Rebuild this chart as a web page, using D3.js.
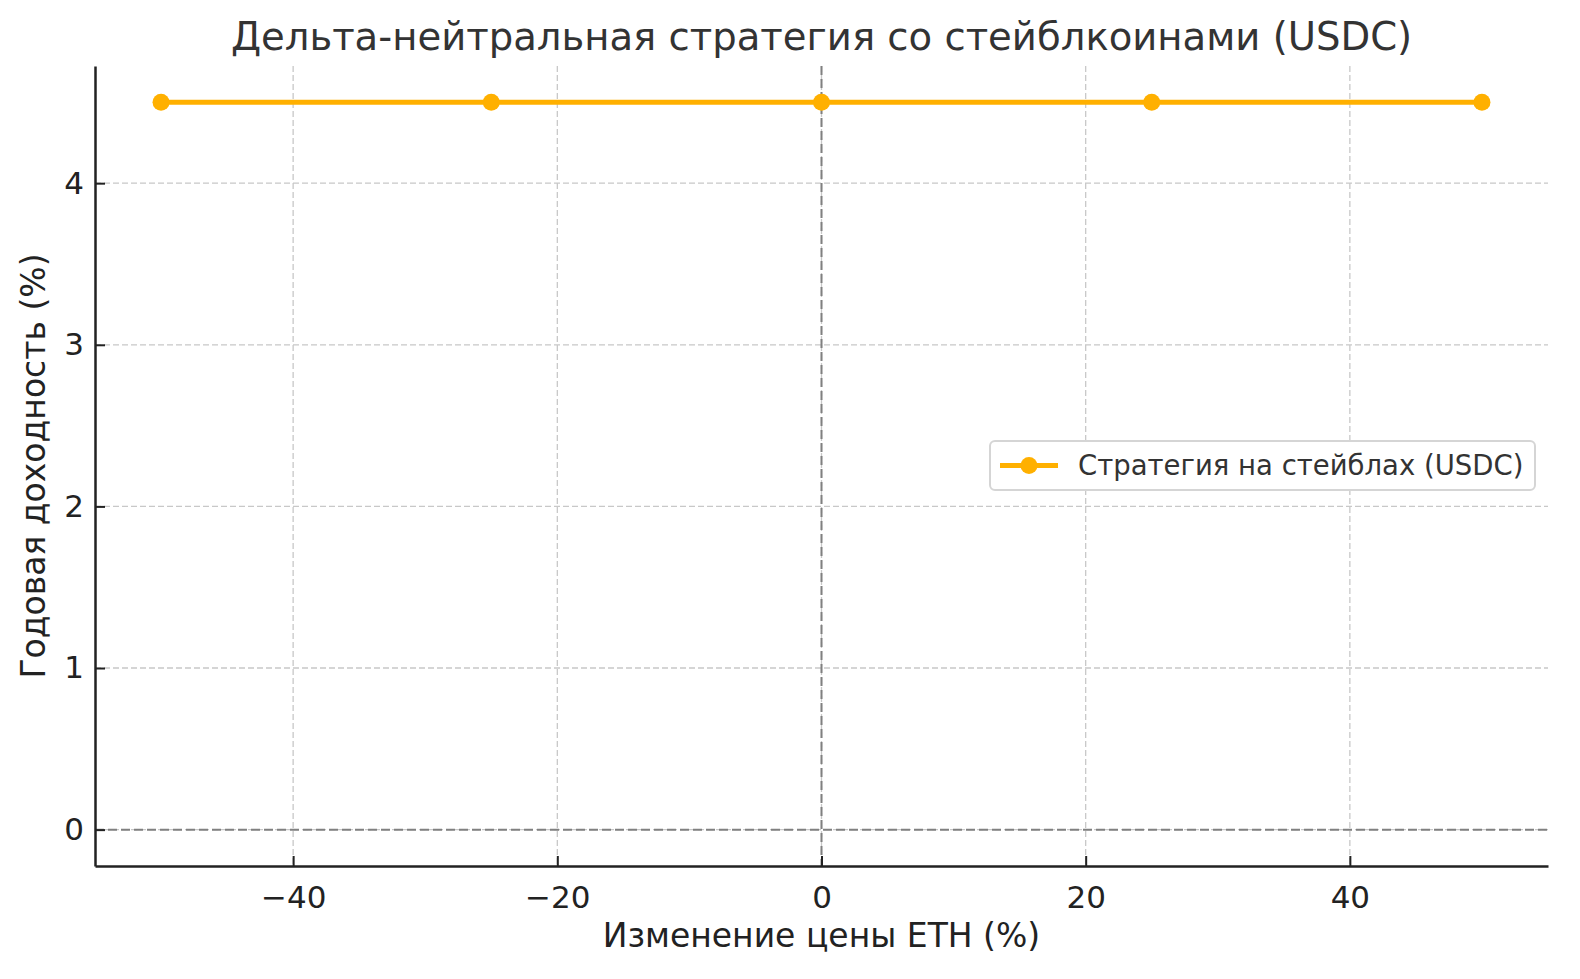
<!DOCTYPE html>
<html>
<head>
<meta charset="utf-8">
<script src="https://cdn.jsdelivr.net/npm/d3@7"></script>
<style>
  html, body { margin: 0; padding: 0; background: #fff; overflow: hidden; }
  svg { display: block; }
  text { font-family: "DejaVu Sans", sans-serif; }
</style>
</head>
<body>
<div class="container"></div>
<script>
// data
var priceChange = [-50, -25, 0, 25, 50];
var yieldValues = [4.5, 4.5, 4.5, 4.5, 4.5];
var xTicks = [-40, -20, 0, 20, 40];
var yTicks = [0, 1, 2, 3, 4];
var seriesName = 'Стратегия на стейблах (USDC)';

var width = 1580, height = 979;
var plotLeft = 95, plotRight = 1548, plotTop = 66, plotBottom = 866;

var svg = d3
	.select('.container')
	.append('svg')
	.attr('width', width)
	.attr('height', height);

var x = d3.scaleLinear().domain([-55, 55]).range([plotLeft, plotRight]);
var y = d3.scaleLinear().domain([-0.225, 4.725]).range([plotBottom, plotTop]);

// grid
var grid = svg.append('g');
grid.selectAll('.gx')
	.data(xTicks)
	.enter()
	.append('line')
	.attr('x1', function(d) { return x(d); })
	.attr('x2', function(d) { return x(d); })
	.attr('y1', plotTop)
	.attr('y2', plotBottom)
	.attr('stroke', '#c8c8c8')
	.attr('stroke-width', 1.3)
	.attr('stroke-dasharray', '6,3');
grid.selectAll('.gy')
	.data(yTicks)
	.enter()
	.append('line')
	.attr('x1', plotLeft)
	.attr('x2', plotRight)
	.attr('y1', function(d) { return y(d); })
	.attr('y2', function(d) { return y(d); })
	.attr('stroke', '#c8c8c8')
	.attr('stroke-width', 1.3)
	.attr('stroke-dasharray', '6,3');

// zero lines
svg.append('line')
	.attr('x1', plotLeft).attr('x2', plotRight)
	.attr('y1', y(0)).attr('y2', y(0))
	.attr('stroke', '#808080')
	.attr('stroke-width', 2)
	.attr('stroke-dasharray', '9,4');
svg.append('line')
	.attr('x1', x(0)).attr('x2', x(0))
	.attr('y1', plotTop).attr('y2', plotBottom)
	.attr('stroke', '#808080')
	.attr('stroke-width', 2)
	.attr('stroke-dasharray', '9,4');

// series
var pts = priceChange.map(function(d, i) { return [d, yieldValues[i]]; });
svg.append('path')
	.datum(pts)
	.attr('fill', 'none')
	.attr('stroke', '#ffb000')
	.attr('stroke-width', 5)
	.attr('d', d3.line()
		.x(function(d) { return x(d[0]); })
		.y(function(d) { return y(d[1]); }));
svg.append('g')
	.selectAll('circle')
	.data(pts)
	.enter()
	.append('circle')
	.attr('cx', function(d) { return x(d[0]); })
	.attr('cy', function(d) { return y(d[1]); })
	.attr('r', 8.5)
	.attr('fill', '#ffb000');

// axes
var xAxis = svg.append('g')
	.attr('transform', 'translate(0,' + plotBottom + ')')
	.call(d3.axisBottom(x).tickValues(xTicks).tickSizeInner(-10).tickSizeOuter(0).tickPadding(20)
		.tickFormat(function(d) { return d < 0 ? '\u2212' + Math.abs(d) : d; }));
var yAxis = svg.append('g')
	.attr('transform', 'translate(' + plotLeft + ',0)')
	.call(d3.axisLeft(y).tickValues(yTicks).tickSizeInner(-10).tickSizeOuter(0).tickPadding(11)
		.tickFormat(d3.format('d')));

[xAxis, yAxis].forEach(function(a) {
	a.select('.domain').attr('stroke', '#222').attr('stroke-width', 2.5);
	a.selectAll('.tick line').attr('stroke', '#222').attr('stroke-width', 2);
	a.selectAll('.tick text')
		.attr('fill', '#222')
		.style('font-family', '"DejaVu Sans", sans-serif')
		.style('font-size', '31px');
});

// labels
svg.append('text')
	.attr('x', (plotLeft + plotRight) / 2)
	.attr('y', 50)
	.attr('text-anchor', 'middle')
	.attr('fill', '#333')
	.style('font-size', '38.6px')
	.text('Дельта-нейтральная стратегия со стейблкоинами (USDC)');
svg.append('text')
	.attr('x', (plotLeft + plotRight) / 2)
	.attr('y', 947)
	.attr('text-anchor', 'middle')
	.attr('fill', '#222')
	.style('font-size', '33px')
	.text('Изменение цены ETH (%)');
svg.append('text')
	.attr('transform', 'translate(45,' + (plotTop + plotBottom) / 2 + ') rotate(-90)')
	.attr('text-anchor', 'middle')
	.attr('fill', '#222')
	.style('font-size', '33px')
	.text('Годовая доходность (%)');

// legend
var legend = svg.append('g').attr('transform', 'translate(990,441)');
legend.append('rect')
	.attr('width', 545)
	.attr('height', 49)
	.attr('rx', 5)
	.attr('fill', '#fff')
	.attr('stroke', '#d5d5d5')
	.attr('stroke-width', 2);
legend.append('line')
	.attr('x1', 10).attr('x2', 68)
	.attr('y1', 24.5).attr('y2', 24.5)
	.attr('stroke', '#ffb000')
	.attr('stroke-width', 5);
legend.append('circle')
	.attr('cx', 39).attr('cy', 24.5).attr('r', 8.5)
	.attr('fill', '#ffb000');
legend.append('text')
	.attr('x', 88)
	.attr('y', 34)
	.attr('fill', '#333')
	.style('font-size', '27.5px')
	.text(seriesName);
</script>
</body>
</html>
